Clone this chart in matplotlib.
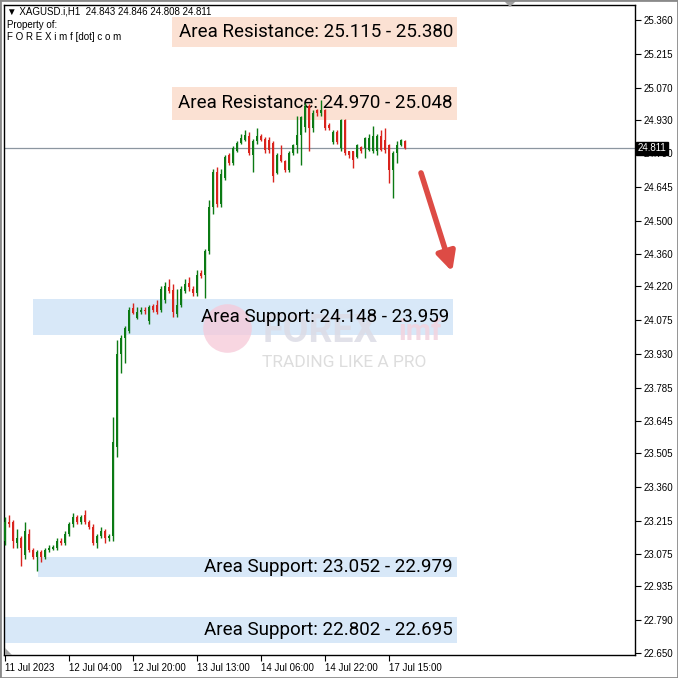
import numpy as np
import matplotlib
matplotlib.use('Agg')
import matplotlib.pyplot as plt
from matplotlib.patches import Polygon

# hourly candles XAGUSD H1, bar 0 .. bar 100
opens = [23.13, 23.21, 23.21, 23.12, 23.14, 23.07, 23.16, 23.09, 23.06, 23.08,
         23.06, 23.09, 23.095, 23.10, 23.13, 23.12, 23.16, 23.20, 23.23, 23.21,
         23.24, 23.21, 23.19, 23.12, 23.15, 23.17, 23.14, 23.15, 23.53, 23.93,
         24.00, 24.03, 24.125, 24.085, 24.11, 24.12, 24.07, 24.135, 24.14, 24.12,
         24.16, 24.215, 24.205, 24.10, 24.14, 24.20, 24.235, 24.21, 24.19, 24.276,
         24.27, 24.37, 24.56, 24.71, 24.57, 24.683, 24.782, 24.747, 24.80, 24.832,
         24.846, 24.861, 24.782, 24.84, 24.861, 24.851, 24.847, 24.835, 24.704, 24.782,
         24.754, 24.718, 24.79, 24.825, 24.868, 24.90, 24.99, 24.896, 24.975, 24.96,
         24.975, 24.911, 24.839, 24.882, 24.811, 24.932, 24.797, 24.797, 24.775, 24.818,
         24.811, 24.804, 24.797, 24.797, 24.861, 24.847, 24.825, 24.718, 24.790, 24.825,
         24.843]
highs = [23.23, 23.24, 23.22, 23.18, 23.15, 23.21, 23.18, 23.10, 23.09, 23.09,
         23.10, 23.11, 23.11, 23.14, 23.14, 23.17, 23.21, 23.25, 23.24, 23.24,
         23.26, 23.22, 23.20, 23.16, 23.19, 23.18, 23.16, 23.66, 23.99, 24.01,
         24.05, 24.13, 24.15, 24.13, 24.13, 24.13, 24.14, 24.145, 24.16, 24.22,
         24.24, 24.25, 24.23, 24.21, 24.22, 24.25, 24.26, 24.22, 24.29, 24.29,
         24.38, 24.59, 24.72, 24.73, 24.72, 24.78, 24.79, 24.82, 24.84, 24.87,
         24.889, 24.88, 24.85, 24.896, 24.871, 24.86, 24.86, 24.84, 24.79, 24.825,
         24.76, 24.80, 24.83, 24.95, 24.95, 25.004, 25.00, 24.975, 24.98, 25.018,
         24.98, 24.92, 24.89, 24.89, 24.935, 24.935, 24.80, 24.80, 24.83, 24.82,
         24.86, 24.87, 24.904, 24.87, 24.89, 24.896, 24.83, 24.80, 24.84, 24.85,
         24.846]
lows = [23.11, 23.19, 23.10, 23.10, 23.02, 23.05, 23.08, 23.05, 23.00, 23.04,
        23.05, 23.08, 23.09, 23.09, 23.11, 23.11, 23.15, 23.19, 23.20, 23.20,
        23.20, 23.18, 23.11, 23.10, 23.14, 23.12, 23.13, 23.13, 23.49, 23.85,
        23.89, 24.02, 24.10, 24.08, 24.10, 24.10, 24.06, 24.11, 24.10, 24.11,
        24.15, 24.19, 24.09, 24.09, 24.13, 24.19, 24.20, 24.18, 24.18, 24.255,
        24.17, 24.36, 24.53, 24.56, 24.56, 24.675, 24.74, 24.74, 24.795, 24.83,
        24.84, 24.78, 24.708, 24.83, 24.84, 24.79, 24.79, 24.665, 24.70, 24.75,
        24.71, 24.71, 24.78, 24.79, 24.74, 24.88, 24.80, 24.88, 24.95, 24.95,
        24.89, 24.89, 24.83, 24.83, 24.80, 24.78, 24.77, 24.725, 24.77, 24.79,
        24.768, 24.80, 24.79, 24.78, 24.80, 24.79, 24.661, 24.597, 24.747, 24.82,
        24.808]
closes = [23.21, 23.20, 23.13, 23.14, 23.10, 23.17, 23.09, 23.06, 23.08, 23.06,
          23.09, 23.10, 23.105, 23.13, 23.12, 23.16, 23.20, 23.23, 23.21, 23.23,
          23.21, 23.19, 23.12, 23.15, 23.17, 23.14, 23.15, 23.555, 23.93, 24.00,
          24.04, 24.12, 24.105, 24.11, 24.12, 24.115, 24.13, 24.12, 24.11, 24.21,
          24.22, 24.20, 24.11, 24.14, 24.21, 24.23, 24.215, 24.19, 24.27, 24.262,
          24.37, 24.56, 24.71, 24.57, 24.70, 24.775, 24.747, 24.811, 24.832, 24.854,
          24.868, 24.789, 24.84, 24.861, 24.847, 24.804, 24.804, 24.69, 24.782, 24.754,
          24.718, 24.79, 24.825, 24.868, 24.946, 24.99, 24.896, 24.961, 24.961, 24.975,
          24.896, 24.896, 24.882, 24.839, 24.932, 24.79, 24.782, 24.761, 24.825, 24.797,
          24.854, 24.854, 24.861, 24.861, 24.804, 24.804, 24.718, 24.790, 24.825, 24.847,
          24.811]

last_price = 24.811

# zones
zone_labels = ['Area Resistance: 25.115 - 25.380', 'Area Resistance: 24.970 - 25.048',
               'Area Support: 24.148 - 23.959', 'Area Support: 23.052 - 22.979',
               'Area Support: 22.802 - 22.695']
zone_low = [25.244, 24.932, 24.012, 22.977, 22.694]
zone_high = [25.373, 25.073, 24.166, 23.062, 22.805]
zone_left = [41.75, 41.75, 7.0, 8.25, -0.5]
zone_right = [113.0, 113.0, 112.0, 113.0, 113.0]
zone_kind = ['res', 'res', 'sup', 'sup', 'sup']

price_ticks = [25.360, 25.215, 25.070, 24.930, 24.790, 24.645, 24.500, 24.360, 24.220, 24.075,
               23.930, 23.785, 23.645, 23.505, 23.360, 23.215, 23.075, 22.935, 22.790, 22.650]
date_ticks = [0, 16, 32, 48, 64, 80, 96]
date_labels = ['11 Jul 2023', '12 Jul 04:00', '12 Jul 20:00', '13 Jul 13:00',
               '14 Jul 06:00', '14 Jul 22:00', '17 Jul 15:00']

arrow_from = (104, 24.705)
arrow_to = (111.8, 24.282)

W = 678
fig = plt.figure(figsize=(6.78, 6.78), dpi=100)
ax = fig.add_axes([4 / W, 23 / W, 631 / W, 650 / W])
ax.set_xlim(-0.25, 157.5)
ax.set_ylim(22.641, 25.424)

lab_font = ['Liberation Sans', 'DejaVu Sans']

# zones
for lab, lo, hi, x0, x1, kind in zip(zone_labels, zone_low, zone_high, zone_left, zone_right, zone_kind):
    col = '#FBE1D3' if kind == 'res' else '#D8E8F8'
    ax.fill_between([x0, x1], lo, hi, color=col, lw=0, zorder=1)
    ax.text(x1 - 1, (lo + hi) / 2, lab, ha='right', va='center', fontsize=13.5,
            family='Roboto', color='black', zorder=2)

# watermark logo (faint)
ax.plot([55.5], [24.04], 'o', ms=35, color='#F6C9D8', alpha=0.75, mec='none', zorder=1.5)
ax.text(64.3, 24.025, 'FOREX', fontsize=27, fontweight='bold', color='#DCDCE6',
        va='center', ha='left', family='Roboto', alpha=0.85, zorder=1.6)
ax.text(98.5, 24.025, 'imf', fontsize=21, fontweight='bold', color='#F2D3DF',
        va='center', ha='left', family='Roboto', alpha=0.85, zorder=1.6)
ax.text(64.3, 23.895, 'TRADING LIKE A PRO', fontsize=12.5, color='#DDDDDD',
        va='center', ha='left', family='Roboto', zorder=1.6)

# current price line
ax.axhline(last_price, color='#8C96A0', lw=0.9, zorder=2.2)

# candles
x = np.arange(len(closes))
o = np.array(opens)
c = np.array(closes)
up = c >= o
col = np.where(up, '#0B7A14', '#D9231C')
ax.vlines(x, lows, highs, colors=col, lw=1.0, zorder=3)
body_lo = np.minimum(o, c)
body_h = np.maximum(np.abs(c - o), 0.004)
ax.bar(x, body_h, bottom=body_lo, width=0.72, color=col, lw=0, zorder=3.1)

# arrow
ax.annotate('', xy=arrow_to, xytext=arrow_from,
            arrowprops=dict(arrowstyle='-|>', color='#DD4B45', lw=4, mutation_scale=28,
                            shrinkA=0, shrinkB=0), zorder=4)

# axes styling
for s in ax.spines.values():
    s.set_color('black')
    s.set_linewidth(1.0)
ax.yaxis.tick_right()
ax.set_yticks(price_ticks)
ax.set_yticklabels(['%.3f' % v for v in price_ticks])
ax.set_xticks(date_ticks)
ax.set_xticklabels(date_labels, ha='left')
ax.tick_params(axis='y', direction='out', length=4, width=0.8, pad=2, labelsize=7,
               colors='black')
ax.tick_params(axis='x', direction='out', length=4, width=0.8, pad=2, labelsize=7,
               colors='black')
for t in ax.get_xticklabels() + ax.get_yticklabels():
    t.set_family(lab_font)

# price tag on the scale
ax.text(1.004, last_price, '%.3f' % last_price, transform=ax.get_yaxis_transform(),
        ha='left', va='center', fontsize=7, color='white', family=lab_font,
        bbox=dict(boxstyle='square,pad=0.15', fc='black', ec='black'), zorder=6, clip_on=False)

# header texts
fig.text(7 / W, 1 - 12 / W, '\u25bc XAGUSD.i,H1  24.843 24.846 24.808 24.811', fontsize=7,
         family=lab_font, va='center', ha='left')
fig.text(7 / W, 1 - 25 / W, 'Property of:', fontsize=7, family=lab_font, va='center', ha='left')
fig.text(7 / W, 1 - 37 / W, 'F O R E X i m f [dot] c o m', fontsize=7, family=lab_font,
         va='center', ha='left')

# small scroll markers
fig.patches.append(Polygon([[503 / W, 1.0], [517 / W, 1.0], [510 / W, 1 - 7 / W]],
                           closed=True, transform=fig.transFigure, fc='#A0A0A0', ec='none'))
fig.patches.append(Polygon([[5 / W, 23 / W], [12 / W, 23 / W], [5 / W, 30 / W]],
                           closed=True, transform=fig.transFigure, fc='#A0A0A0', ec='none'))
# outer frame
fig.patches.append(plt.Rectangle((0, 0), 1, 1, transform=fig.transFigure, fill=False,
                                 ec='#8A8A8A', lw=2))

fig.savefig('out.png', dpi=100)
